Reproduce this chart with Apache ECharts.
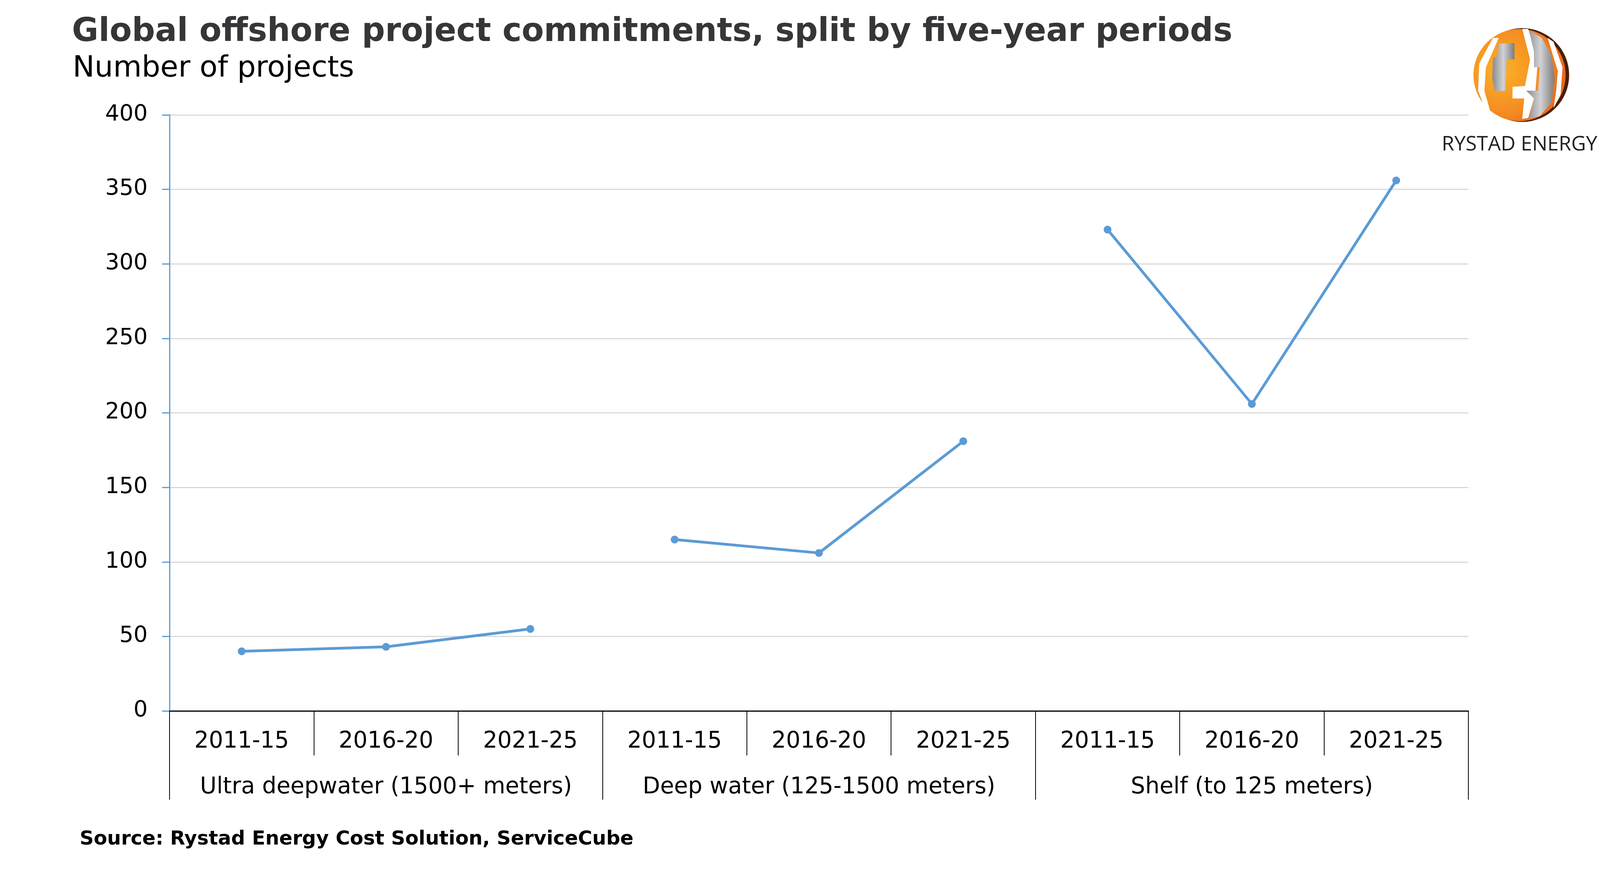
<!DOCTYPE html>
<html>
<head>
<meta charset="utf-8">
<script src="https://cdn.jsdelivr.net/npm/echarts@6/dist/echarts.min.js"></script>
<style>
  html, body { margin: 0; padding: 0; background: #fff; }
  #chart { width: 4252px; height: 2244px; }
</style>
</head>
<body>
<div id="chart"></div>
<script>
// data
const periods = ['2011-15', '2016-20', '2021-25', '2011-15', '2016-20', '2021-25', '2011-15', '2016-20', '2021-25']
const groups = ['Ultra deepwater (1500+ meters)', 'Deep water (125-1500 meters)', 'Shelf (to 125 meters)']
const ultraDeep = [40, 43, 55]
const deepWater = [115, 106, 181]
const shelf = [323, 206, 356]
const yTicks = { min: 0, max: 400, interval: 50 }

const blue = '#5B9BD5'
const font = 'DejaVu Sans'

// put each group's values at its own three category slots, '-' elsewhere
const place = (vals, groupIdx) => periods.map((p, i) => {
  const k = i - groupIdx * 3
  return (k >= 0 && k < 3) ? vals[k] : '-'
})

const lineSeries = (name, vals, idx) => ({
  name: name,
  type: 'line',
  data: place(vals, idx),
  symbol: 'circle',
  symbolSize: 20,
  lineStyle: { color: blue, width: 7 },
  itemStyle: { color: blue },
  connectNulls: false,
  animation: false
})

// logo, roughly
const cx = 3892, cy = 192, r = 120
const gray = {
  type: 'linear', x: 0, y: 0, x2: 1, y2: 0,
  colorStops: [{ offset: 0, color: '#8A8A8C' }, { offset: 0.5, color: '#D2D2D4' }, { offset: 1, color: '#7C7C7E' }]
}
const logo = [
  { type: 'circle', shape: { cx: cx + 5, cy: cy, r: r }, style: { fill: '#4A1E08' } },
  {
    type: 'circle', shape: { cx: cx - 2, cy: cy, r: r - 2 },
    style: {
      fill: {
        type: 'radial', x: 0.3, y: 0.45, r: 0.8,
        colorStops: [{ offset: 0, color: '#FBB226' }, { offset: 0.6, color: '#F48A22' }, { offset: 1, color: '#E2591B' }]
      }
    }
  },
  // left white gap
  { type: 'polygon', shape: { points: [[cx - 70, cy - 95], [cx - 55, cy - 95], [cx - 88, cy - 20], [cx - 92, cy + 40], [cx - 75, cy + 100], [cx - 88, cy + 92], [cx - 108, cy + 40], [cx - 105, cy - 30]] }, style: { fill: '#fff' } },
  // left gray band
  { type: 'polygon', shape: { points: [[cx - 55, cy - 80], [cx - 15, cy - 82], [cx - 15, cy - 40], [cx - 35, cy - 40], [cx - 38, cy + 40], [cx - 65, cy + 42], [cx - 72, cy + 10], [cx - 70, cy - 45], [cx - 58, cy - 48]] }, style: { fill: gray } },
  // right white gap
  { type: 'polygon', shape: { points: [[cx + 5, cy - 118], [cx + 20, cy - 118], [cx + 45, cy - 40], [cx + 38, cy + 50], [cx + 20, cy + 110], [cx + 5, cy + 112], [cx + 10, cy + 60], [cx - 20, cy + 60], [cx - 20, cy + 30], [cx + 12, cy + 28], [cx + 25, cy - 40]] }, style: { fill: '#fff' } },
  // right gray band
  { type: 'polygon', shape: { points: [[cx + 22, cy - 115], [cx + 55, cy - 95], [cx + 80, cy - 50], [cx + 88, cy + 10], [cx + 80, cy + 70], [cx + 50, cy + 105], [cx + 22, cy + 112], [cx + 35, cy + 60], [cx + 15, cy + 40], [cx + 45, cy + 40], [cx + 50, cy - 20], [cx + 35, cy - 20], [cx + 35, cy - 60]] }, style: { fill: gray } },
  // outer white gap on the right
  { type: 'polygon', shape: { points: [[cx + 70, cy - 95], [cx + 85, cy - 85], [cx + 108, cy - 20], [cx + 103, cy + 50], [cx + 85, cy + 85], [cx + 92, cy + 40], [cx + 96, cy - 10]] }, style: { fill: '#fff' } },
  {
    type: 'text', x: cx - 2, y: 370,
    style: { text: 'RYSTAD ENERGY', font: '52px "Open Sans"', fill: '#231F20', align: 'center', verticalAlign: 'middle' }
  }
]

const chart = echarts.init(document.getElementById('chart'), null, { renderer: 'canvas' })

const option = {
  backgroundColor: '#fff',
  animation: false,
  textStyle: { fontFamily: font },
  grid: { left: 434, right: 493, top: 294, bottom: 425, containLabel: false },
  xAxis: [
    {
      type: 'category',
      data: periods,
      position: 'bottom',
      boundaryGap: true,
      axisLine: { show: true, lineStyle: { color: '#000', width: 3 } },
      axisTick: { show: true, length: 114, lineStyle: { color: '#000', width: 2 } },
      axisLabel: { interval: 0, margin: 50, fontSize: 58, color: '#000', fontFamily: font },
      splitLine: { show: false }
    },
    {
      type: 'category',
      data: groups,
      position: 'bottom',
      boundaryGap: true,
      axisLine: { show: false },
      axisTick: { show: true, length: 227, lineStyle: { color: '#000', width: 2 } },
      axisLabel: { interval: 0, margin: 167, fontSize: 58, color: '#000', fontFamily: font },
      splitLine: { show: false }
    }
  ],
  yAxis: {
    type: 'value',
    min: yTicks.min,
    max: yTicks.max,
    interval: yTicks.interval,
    axisLine: { show: true, lineStyle: { color: blue, width: 3 } },
    axisTick: { show: true, length: 19, lineStyle: { color: blue, width: 3 } },
    axisLabel: { margin: 56, fontSize: 57, color: '#000', fontFamily: font },
    splitLine: { show: true, lineStyle: { color: '#D9D9D9', width: 3 } }
  },
  series: [
    lineSeries(groups[0], ultraDeep, 0),
    lineSeries(groups[1], deepWater, 1),
    lineSeries(groups[2], shelf, 2)
  ],
  graphic: [
    {
      type: 'text', x: 184, y: 83,
      style: { text: 'Global offshore project commitments, split by five-year periods', font: 'bold 83px "DejaVu Sans"', fill: '#363639', verticalAlign: 'middle' }
    },
    {
      type: 'text', x: 186, y: 177,
      style: { text: 'Number of projects', font: '75px "DejaVu Sans"', fill: '#000', verticalAlign: 'middle' }
    },
    {
      type: 'text', x: 204, y: 2148,
      style: { text: 'Source: Rystad Energy Cost Solution, ServiceCube', font: 'bold 50px "DejaVu Sans"', fill: '#000', verticalAlign: 'middle' }
    }
  ].concat(logo)
}

chart.setOption(option)
</script>
</body>
</html>
